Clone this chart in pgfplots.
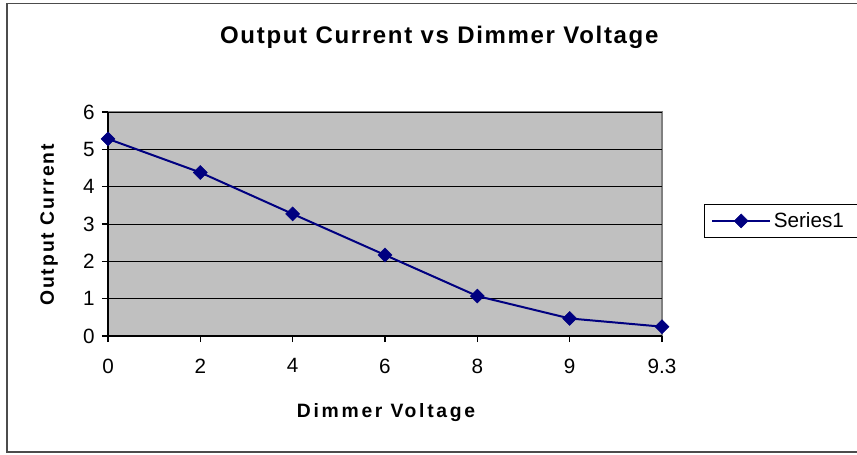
\documentclass[border=0pt]{standalone}
\usepackage{pgfplots}
\pgfplotsset{compat=1.18}
\usepackage{fontspec}
\setmainfont{Liberation Sans}
\definecolor{navy}{HTML}{000080}
\definecolor{plotbg}{HTML}{C0C0C0}
\begin{document}
\begin{tikzpicture}
\path[use as bounding box] (-81pt,-88.5pt) rectangle (561.75pt,252pt);
\draw[black!70, line width=0.8pt] (-75.75pt,-87pt) rectangle (565pt,249.5pt);
\begin{axis}[
  at={(0pt,0pt)}, anchor=south west,
  scale only axis, width=415.5pt, height=168pt,
  xmin=0, xmax=6, ymin=0, ymax=6,
  xtick={0,1,2,3,4,5,6},
  xticklabels={0,2,4,6,8,9,9.3},
  ytick={0,1,2,3,4,5,6},
  axis x line*=bottom, axis y line*=left,
  x axis line style={-}, y axis line style={-},
  axis line style={black, line width=0.8pt},
  axis background/.style={fill=plotbg, draw=gray, line width=0.8pt},
  ymajorgrids, grid style={black, line width=0.6pt},
  tick align=outside, major tick length=4.5pt,
  tick style={black, line width=0.8pt},
  ticklabel style={font=\fontsize{15.5}{17}\selectfont},
  /pgf/number format/assume math mode=true,
  xticklabel style={yshift=-9pt},
  yticklabel style={xshift=-2pt},
  title={Output Current vs Dimmer Voltage},
  title style={font=\bfseries\fontsize{18}{20}\selectfont\addfontfeatures{LetterSpace=7}, at={(0.598,1.268)}, anchor=base},
  xlabel={Dimmer Voltage},
  xlabel style={font=\bfseries\fontsize{14.5}{16}\selectfont\addfontfeatures{LetterSpace=14}, at={(0.502,-0.366)}, anchor=base},
  ylabel={Output Current},
  ylabel style={font=\bfseries\fontsize{14.5}{16}\selectfont\addfontfeatures{LetterSpace=10}, at={(-0.0975,0.496)}, anchor=base, rotate=0},
  legend style={at={(1.076,0.589)}, anchor=north west, draw=black, line width=0.6pt,
    font=\fontsize{15.5}{17}\selectfont, inner xsep=5pt, inner ysep=4pt},
  legend cell align=left,
  legend image code/.code={\draw[mark repeat=2,mark phase=2,#1] plot coordinates {(0pt,0pt)(21.75pt,0pt)(43.5pt,0pt)};},
]
\addplot[navy, line width=1.5pt, mark=square*, mark size=3.7pt, mark options={fill=navy, draw=navy, line width=0.4pt, rotate=45}]
  coordinates {(0,5.28) (1,4.38) (2,3.27) (3,2.17) (4,1.07) (5,0.47) (6,0.25)};
\addlegendentry{Series1\hspace*{6pt}}
\end{axis}
\end{tikzpicture}
\end{document}
